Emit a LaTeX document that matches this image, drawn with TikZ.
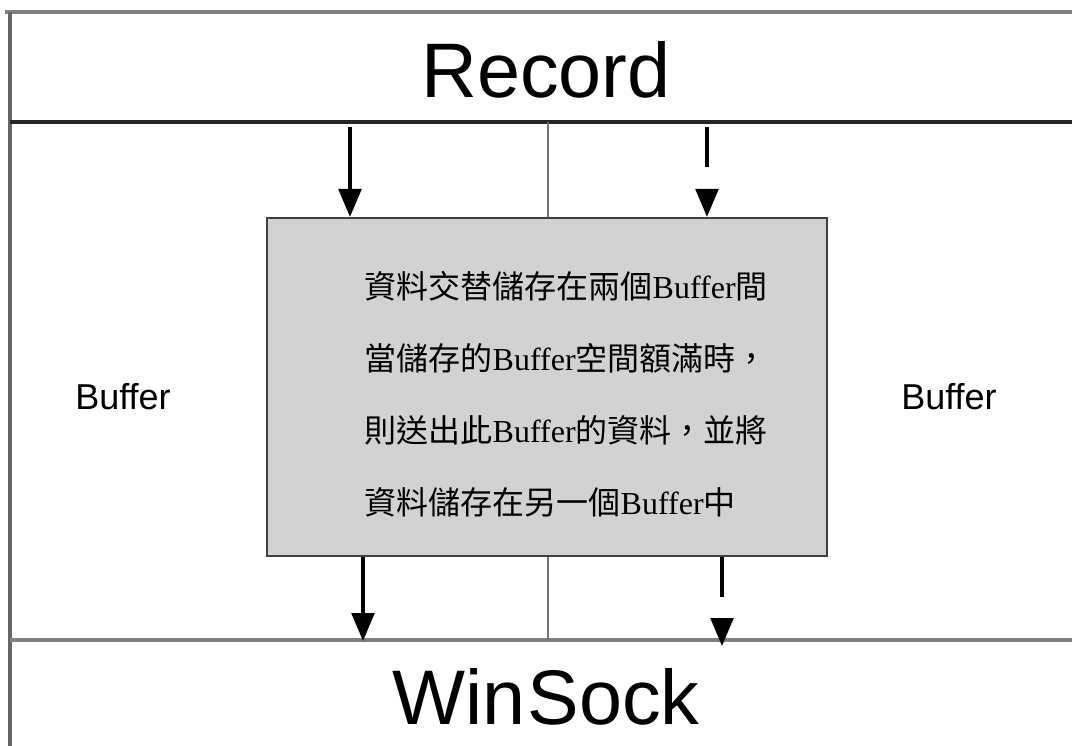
\documentclass[tikz,border=0pt]{standalone}
\usepackage{fontspec}
\setmainfont{Liberation Sans}
\newfontfamily\cjk{Noto Sans CJK TC}
\newfontfamily\mingbuf{Liberation Serif}
\usetikzlibrary{arrows.meta,positioning}
\begin{document}
\begin{tikzpicture}[x=0.75pt, y=-0.75pt, >={Triangle[width=17pt,length=21pt]}]
    % styles
    \tikzstyle{frame_line} = [line width=2.5pt, gray]
    \tikzstyle{split_line} = [line width=1.8pt, gray!90!black]
    \tikzstyle{core_box} = [rectangle, draw=black!75, fill=gray!35, line width=1.6pt, minimum width=420pt, minimum height=253.5pt, inner sep=0pt]
    \tikzstyle{arrow_solid} = [->, line width=2.6pt, black]
    \tikzstyle{arrow_dash} = [->, line width=2.6pt, black, dash pattern=on 30pt off 25pt]
    \tikzstyle{big_label} = [font=\fontsize{58}{64}\selectfont]
    \tikzstyle{buf_label} = [font=\fontsize{27}{32}\selectfont]

    \useasboundingbox (0,0) rectangle (1072,746);
    \fill[white] (0,0) rectangle (1072,746);

    % outer frame and bands
    \draw[frame_line] (5,12) -- (1072,12);
    \draw[frame_line, gray!80!black] (10,12) -- (10,746);
    \draw[line width=2.3pt, black!85] (10,122) -- (1072,122);
    \draw[frame_line] (10,640) -- (1072,640);

    % layers
    \node[big_label] (record) at (546,70) {Record};
    \node[big_label] (winsock) at (546,697) {Win\kern1.5pt Sock};

    % double buffer
    \node[core_box] (core) at (547,387) {};
    \node[anchor=west, align=left, font=\cjk\fontsize{24}{54}\selectfont] (note) at (360,394)
        {資料交替儲存在兩個{\mingbuf Buffer}間\\
         當儲存的{\mingbuf Buffer}空間額滿時，\\
         則送出此{\mingbuf Buffer}的資料，並將\\
         資料儲存在另一個{\mingbuf Buffer}中};
    \node[buf_label] (bufL) at (123,397) {Buffer};
    \node[buf_label] (bufR) at (949,397) {Buffer};

    % split between the two buffers
    \coordinate (splitT) at (548,122);
    \coordinate (splitB) at (548,640);
    \draw[split_line] (splitT) -- (splitT |- core.north);
    \draw[split_line] (splitB |- core.south) -- (splitB);

    % data in
    \coordinate (inL) at (350,127);
    \coordinate (inR) at (707,127);
    \draw[arrow_solid] (inL) -- (inL |- core.north);
    \draw[arrow_dash] (inR) -- (inR |- core.north);

    % data out
    \coordinate (outL) at (363,641);
    \coordinate (outR) at (722,646);
    \draw[arrow_solid] (outL |- core.south) -- (outL);
    \draw[arrow_dash] (outR |- core.south) -- (outR);
\end{tikzpicture}
\end{document}
